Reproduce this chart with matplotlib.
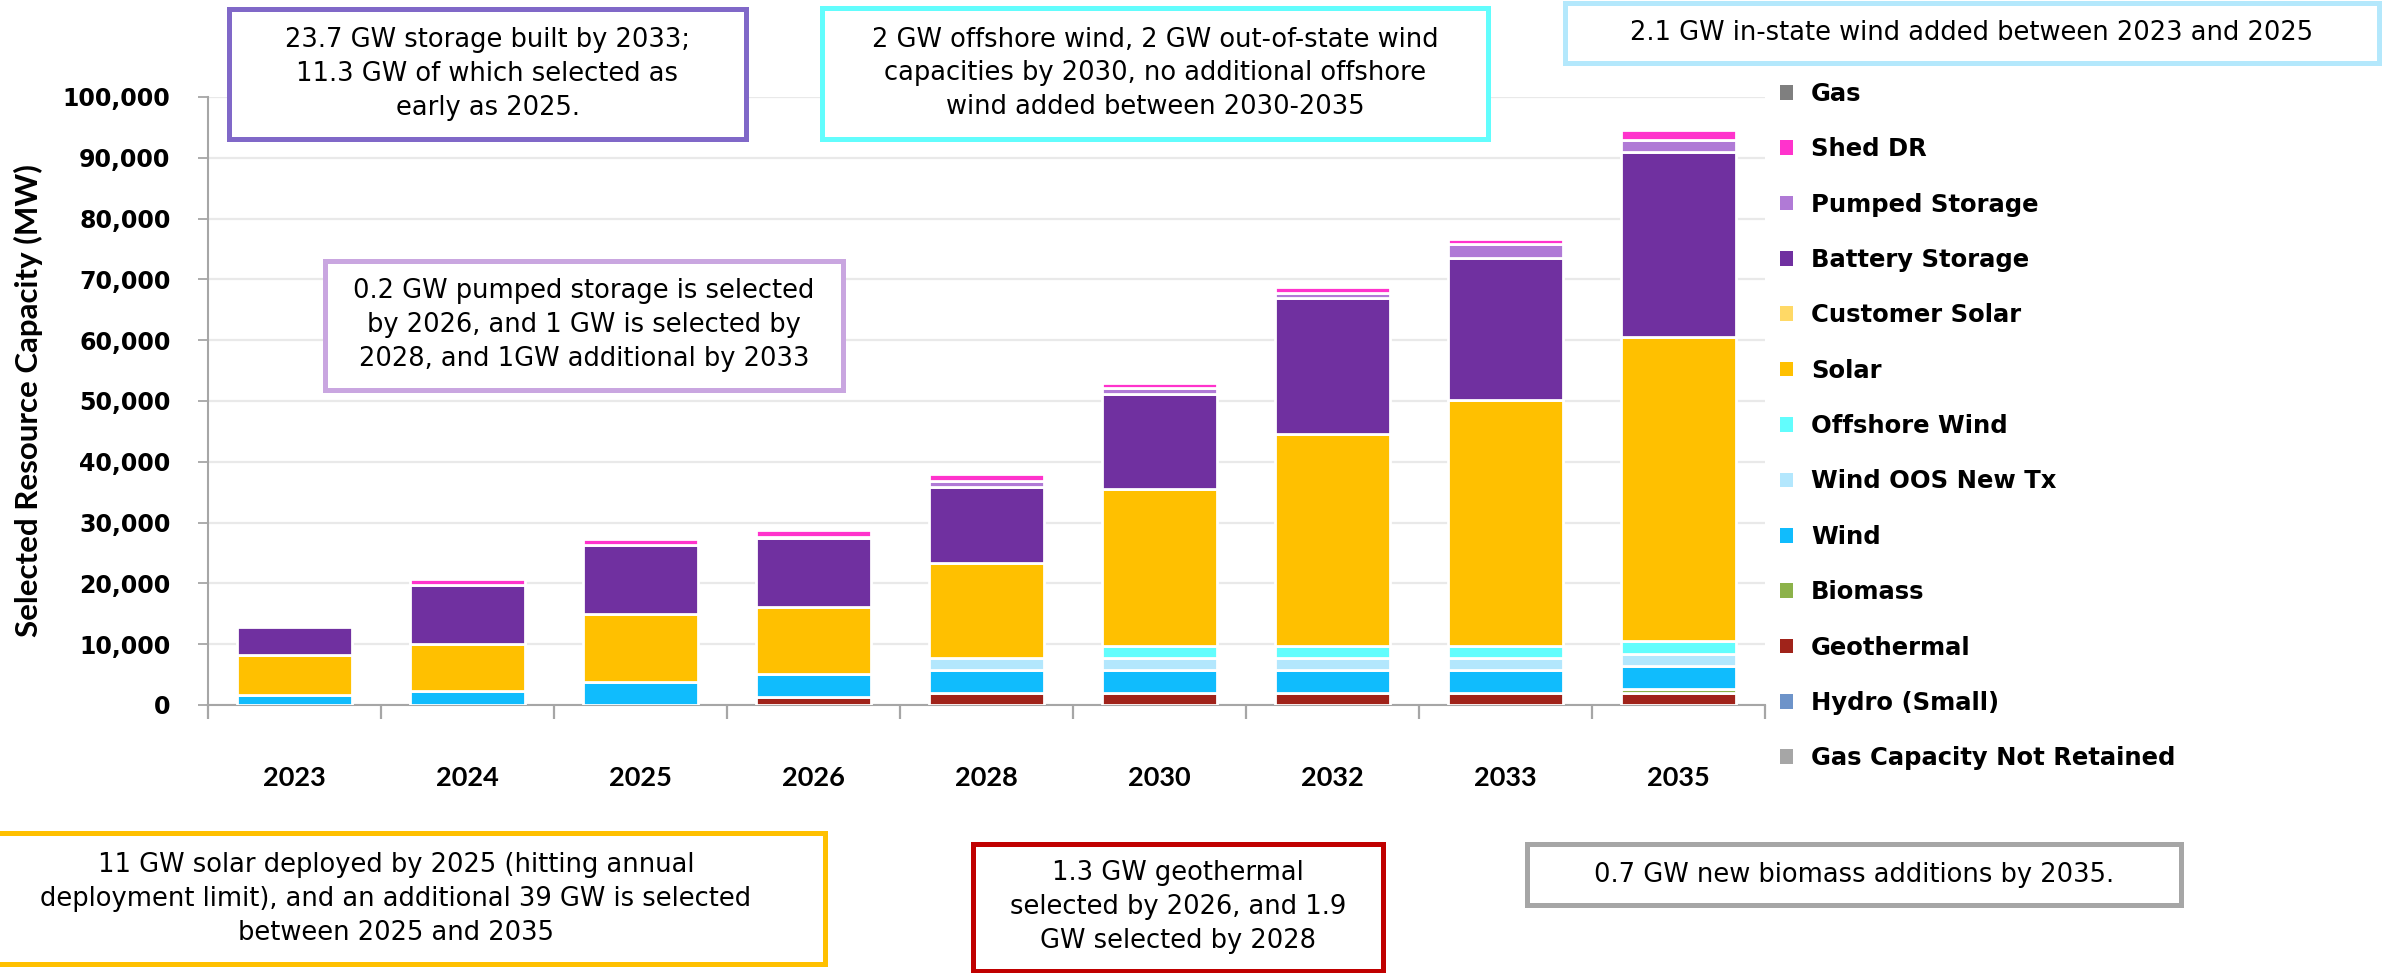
import numpy as np
import matplotlib.pyplot as plt
from matplotlib.patches import Patch, Rectangle

years = ['2023', '2024', '2025', '2026', '2028', '2030', '2032', '2033', '2035']

# MW added per resource (stack order bottom -> top)
gas_not_retained = [0, 0, 0, 0, 0, 0, 0, 0, 0]
hydro_small = [0, 0, 0, 0, 0, 0, 0, 0, 0]
geothermal = [0, 0, 0, 1250, 1900, 1900, 1900, 1900, 1900]
biomass = [0, 0, 0, 0, 0, 0, 0, 0, 700]
wind = [1700, 2350, 3850, 3900, 3850, 3850, 3850, 3850, 3850]
wind_oos = [0, 0, 0, 0, 1950, 1950, 1950, 1950, 1950]
offshore_wind = [0, 0, 0, 0, 0, 2000, 2000, 2000, 2050]
solar = [6550, 7750, 11150, 11050, 15700, 25800, 34900, 40400, 50000]
customer_solar = [0, 0, 0, 0, 0, 0, 0, 0, 0]
battery = [4500, 9700, 11300, 11300, 12500, 15600, 22300, 23500, 30450]
pumped = [0, 0, 0, 200, 1000, 1000, 900, 2200, 2100]
shed_dr = [0, 900, 1000, 1100, 1100, 900, 1000, 800, 1500]
gas = [0, 0, 0, 0, 0, 0, 0, 0, 0]

series = [
    ('Gas Capacity Not Retained', gas_not_retained, '#a6a6a6'),
    ('Hydro (Small)', hydro_small, '#6d93c9'),
    ('Geothermal', geothermal, '#a0231a'),
    ('Biomass', biomass, '#8cb24a'),
    ('Wind', wind, '#10bcfd'),
    ('Wind OOS New Tx', wind_oos, '#b3e7fd'),
    ('Offshore Wind', offshore_wind, '#62fdfd'),
    ('Solar', solar, '#ffc000'),
    ('Customer Solar', customer_solar, '#ffd966'),
    ('Battery Storage', battery, '#7030a0'),
    ('Pumped Storage', pumped, '#b07ad6'),
    ('Shed DR', shed_dr, '#ff33cc'),
    ('Gas', gas, '#7f7f7f'),
]

W, H = 2382, 973
fig = plt.figure(figsize=(W / 100, H / 100), dpi=100)
ax = fig.add_axes([208 / W, 1 - 705 / H, (1765 - 208) / W, (705 - 97) / H])

x = np.arange(len(years))
bottom = np.zeros(len(years))
for name, vals, col in series:
    v = np.array(vals, dtype=float)
    m = v > 0
    if m.any():
        ax.bar(x[m], v[m], bottom=bottom[m], width=0.665, color=col,
               edgecolor='white', linewidth=2, zorder=3)
    bottom += v

ax.set_xlim(-0.5, 8.5)
ax.set_ylim(0, 100000)
ax.set_yticks(np.arange(0, 100001, 10000))
ax.set_yticklabels([f'{v:,}' for v in range(0, 100001, 10000)],
                   fontsize=17, fontweight='bold', family='DejaVu Sans')
ax.tick_params(axis='y', length=7, width=1.3, color='#a6a6a6', pad=20)
ax.grid(axis='y', color='#e9e9e9', linewidth=1.6, zorder=0)
ax.set_axisbelow(True)

ax.set_xticks(np.arange(-0.5, 9, 1.0))
ax.set_xticklabels([])
ax.tick_params(axis='x', which='major', length=10, width=1.6, color='#a6a6a6')
ax.set_xticks(x, minor=True)
ax.set_xticklabels(years, minor=True, fontsize=19.5, fontweight='bold',
                   family=['Lato', 'DejaVu Sans'])
ax.tick_params(axis='x', which='minor', length=0, pad=44)

for s in ['top', 'right']:
    ax.spines[s].set_visible(False)
for s in ['left', 'bottom']:
    ax.spines[s].set_color('#a6a6a6')
    ax.spines[s].set_linewidth(1.5)

ax.set_ylabel('Selected Resource Capacity (MW)', fontsize=22.5, fontweight='bold',
              family=['Lato', 'DejaVu Sans'], labelpad=14)

handles = [Patch(facecolor=c, edgecolor='none', label=n) for n, _, c in series[::-1]]
fig.legend(handles=handles, loc='upper left', bbox_to_anchor=(1780 / W, 1 - 82 / H),
           frameon=False, prop={'weight': 'bold', 'size': 17.5},
           handlelength=0.55, handleheight=0.55, handletextpad=0.72,
           labelspacing=1.29, borderpad=0, borderaxespad=0)

# annotation boxes (pixel coords: left, top, right, bottom)
notes = [
    ((229, 9, 746, 139), '#8068c8',
     '23.7 GW storage built by 2033;\n11.3 GW of which selected as\nearly as 2025.'),
    ((822, 8, 1488, 139), '#62fdfd',
     '2 GW offshore wind, 2 GW out-of-state wind\ncapacities by 2030, no additional offshore\nwind added between 2030-2035'),
    ((1565, 3, 2379, 63), '#b4e8fc',
     '2.1 GW in-state wind added between 2023 and 2025'),
    ((325, 261, 843, 390), '#c9a6e0',
     '0.2 GW pumped storage is selected\nby 2026, and 1 GW is selected by\n2028, and 1GW additional by 2033'),
    ((-33, 833, 825, 964), '#ffc000',
     '11 GW solar deployed by 2025 (hitting annual\ndeployment limit), and an additional 39 GW is selected\nbetween 2025 and 2035'),
    ((973, 844, 1383, 971), '#c00000',
     '1.3 GW geothermal\nselected by 2026, and 1.9\nGW selected by 2028'),
    ((1527, 844, 2181, 905), '#a6a6a6',
     '0.7 GW new biomass additions by 2035.'),
]
for (l, t, r, b), col, txt in notes:
    fig.add_artist(Rectangle((l / W, 1 - b / H), (r - l) / W, (b - t) / H,
                             transform=fig.transFigure, facecolor='white',
                             edgecolor=col, linewidth=3.6, zorder=5))
    fig.text((l + r) / 2 / W, 1 - (t + b) / 2 / H, txt, ha='center', va='center',
             fontsize=18.5, linespacing=1.4, zorder=6)

fig.savefig('out.png', dpi=100)
